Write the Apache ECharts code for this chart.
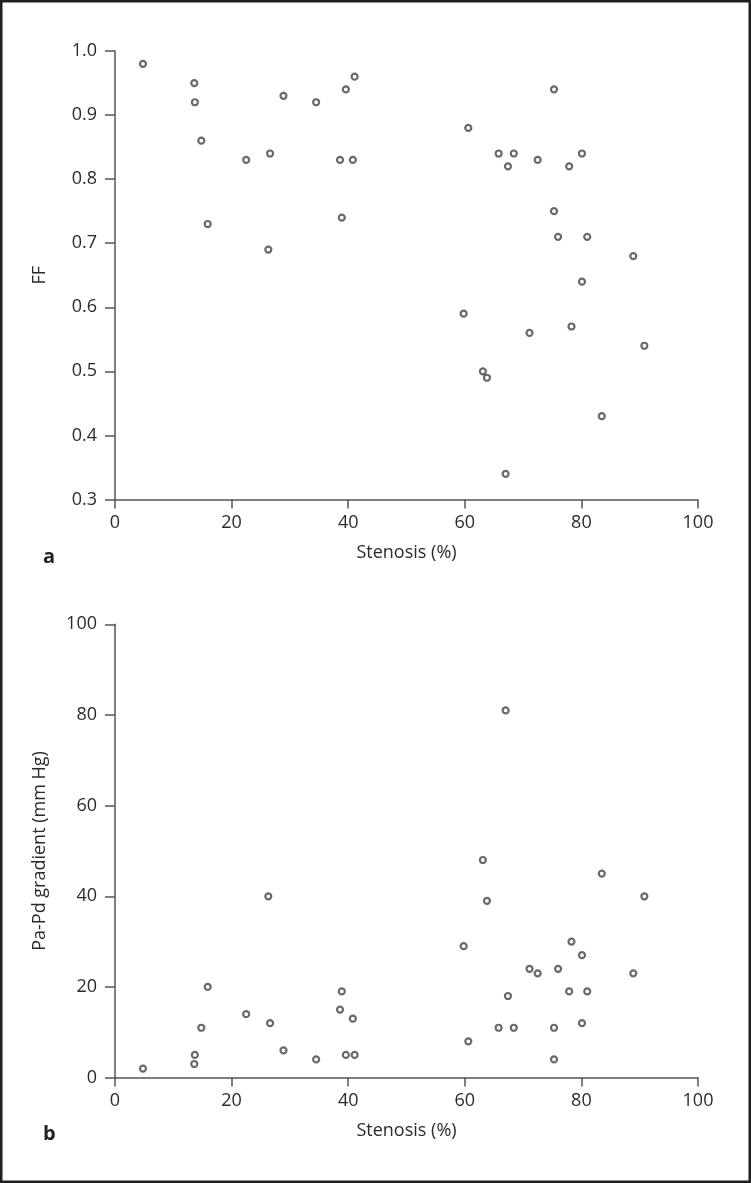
<!DOCTYPE html>
<html>
<head>
<meta charset="utf-8">
<script src="https://cdn.jsdelivr.net/npm/echarts@6/dist/echarts.min.js"></script>
<style>
  html, body { margin: 0; padding: 0; background: #fff; }
  #chart { width: 751px; height: 1183px; }
</style>
</head>
<body>
<div id="chart"></div>
<script>
// same 36 lesions in both panels
const stenosis = [
  4.8, 13.6, 13.7, 14.8, 15.9, 22.5, 26.6, 26.3, 28.9, 34.5, 38.6, 38.9,
  39.6, 40.8, 41.1, 59.8, 60.6, 63.1, 63.8, 65.8, 67.0, 67.4, 68.4, 71.1,
  72.5, 75.3, 75.3, 76.0, 77.9, 78.3, 80.1, 80.1, 81.0, 83.5, 88.9, 90.8
];
const ffValues = [
  0.98, 0.95, 0.92, 0.86, 0.73, 0.83, 0.84, 0.69, 0.93, 0.92, 0.83, 0.74,
  0.94, 0.83, 0.96, 0.59, 0.88, 0.50, 0.49, 0.84, 0.34, 0.82, 0.84, 0.56,
  0.83, 0.94, 0.75, 0.71, 0.82, 0.57, 0.84, 0.64, 0.71, 0.43, 0.68, 0.54
];
const gradientValues = [
  2, 3, 5, 11, 20, 14, 12, 40, 6, 4, 15, 19,
  5, 13, 5, 29, 8, 48, 39, 11, 81, 18, 11, 24,
  23, 4, 11, 24, 19, 30, 12, 27, 19, 45, 23, 40
];
const xTicks = [0, 20, 40, 60, 80, 100];

const font = "'Open Sans', 'Noto Sans', sans-serif";
const ink = '#2b2b2b';
const axisColor = '#555';

const pairs = ys => stenosis.map((x, i) => [x, ys[i]]);

const axisCommon = {
  axisLine: { show: true, lineStyle: { color: axisColor, width: 1.5 } },
  axisTick: { show: true, inside: false, length: 10, lineStyle: { color: axisColor, width: 1.5 } },
  splitLine: { show: false },
  axisLabel: { color: ink, fontSize: 18, fontFamily: font },
  nameTextStyle: { color: ink, fontSize: 18, fontFamily: font },
};

const xAxisFor = gridIndex => ({
  ...axisCommon,
  type: 'value',
  gridIndex,
  min: xTicks[0],
  max: xTicks[xTicks.length - 1],
  interval: 20,
  axisLabel: { ...axisCommon.axisLabel, margin: 14 },
  axisTick: { ...axisCommon.axisTick, length: 9 },
  name: 'Stenosis (%)',
  nameLocation: 'middle',
  nameGap: 44,
});

const markerSeries = (data, i) => ({
  type: 'scatter',
  xAxisIndex: i,
  yAxisIndex: i,
  data,
  symbol: 'circle',
  symbolSize: 6,
  itemStyle: { color: '#fff', borderColor: '#444', borderWidth: 2.2 },
  emphasis: { disabled: true },
});

const option = {
  backgroundColor: '#fff',
  animation: false,
  title: [
    { text: 'a', left: 38, top: 542, textStyle: { fontSize: 20, fontWeight: 'bold', color: '#222', fontFamily: font } },
    { text: 'b', left: 38, top: 1119, textStyle: { fontSize: 20, fontWeight: 'bold', color: '#222', fontFamily: font } },
  ],
  grid: [
    { left: 115, width: 583, top: 51, height: 448.5 },
    { left: 115, width: 583, top: 624.3, height: 453.3 },
  ],
  xAxis: [xAxisFor(0), xAxisFor(1)],
  yAxis: [
    {
      ...axisCommon,
      type: 'value',
      gridIndex: 0,
      min: 0.3,
      max: 1.0,
      interval: 0.1,
      axisLabel: { ...axisCommon.axisLabel, margin: 18, formatter: v => v.toFixed(1) },
      name: 'FF',
      nameLocation: 'middle',
      nameGap: 66,
    },
    {
      ...axisCommon,
      type: 'value',
      gridIndex: 1,
      min: 0,
      max: 100,
      interval: 20,
      axisLabel: { ...axisCommon.axisLabel, margin: 18 },
      name: 'Pa-Pd gradient (mm Hg)',
      nameLocation: 'middle',
      nameGap: 66,
    },
  ],
  graphic: [
    {
      type: 'rect',
      shape: { x: 1.25, y: 1.25, width: 748.5, height: 1180.5 },
      style: { fill: 'none', stroke: '#231f20', lineWidth: 2.5 },
      silent: true,
    },
  ],
  series: [markerSeries(pairs(ffValues), 0), markerSeries(pairs(gradientValues), 1)],
};

const chart = echarts.init(document.getElementById('chart'), null, { renderer: 'canvas' });
chart.setOption(option);
</script>
</body>
</html>
